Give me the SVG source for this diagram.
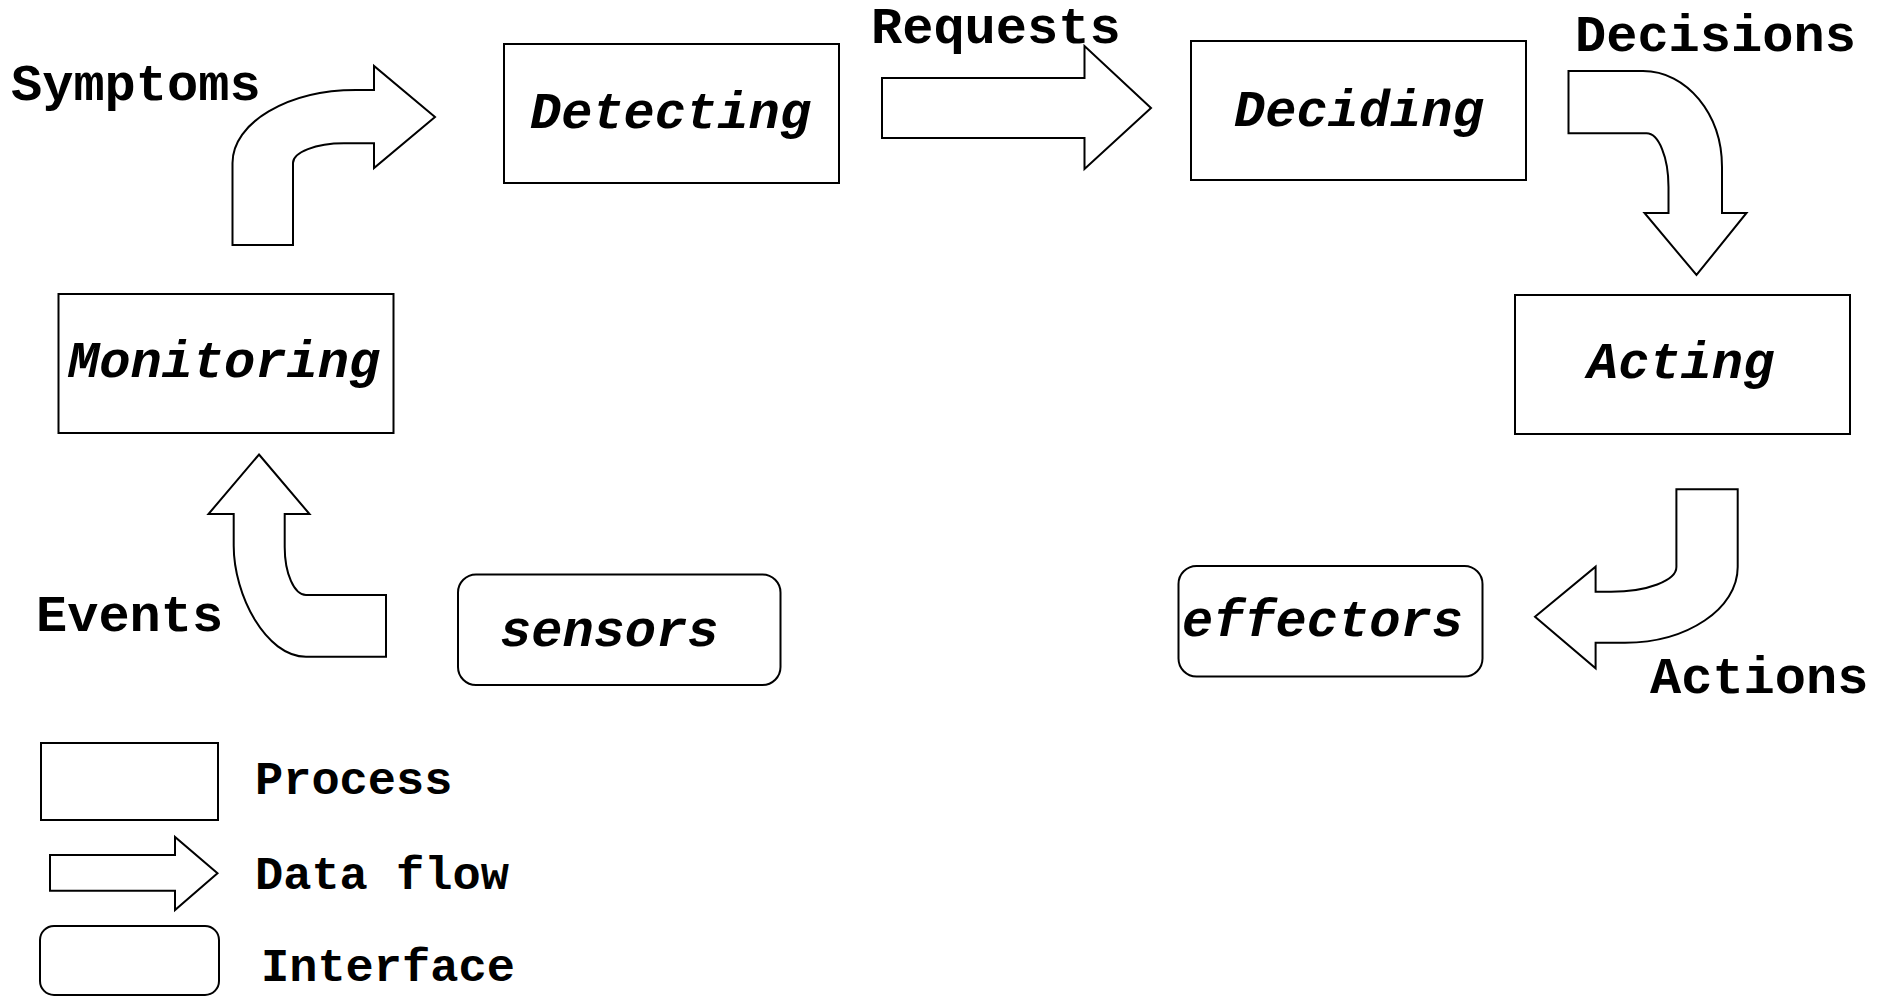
<svg xmlns="http://www.w3.org/2000/svg" width="1895" height="997" viewBox="0 0 1895 997">
  <style>
    .box { fill: #fff; stroke: #000; stroke-width: 2; }
    .flow { fill: #fff; stroke: #000; stroke-width: 2; stroke-linejoin: miter; }
    .lbl { font-family: "Liberation Mono", "Courier New", monospace; font-weight: bold; font-size: 52px; fill: #000; }
    .name { font-family: "Liberation Mono", "Courier New", monospace; font-weight: bold; font-style: italic; font-size: 52px; fill: #000; }
    .key { font-family: "Liberation Mono", "Courier New", monospace; font-weight: bold; font-size: 47px; fill: #000; }
  </style>
  <rect width="1895" height="997" fill="#fff"/>

  <!-- processes -->
  <g id="monitoring">
    <rect class="box" x="58.5" y="294" width="335" height="139"/>
    <text class="name" x="68" y="377">Monitoring</text>
  </g>
  <g id="detecting">
    <rect class="box" x="504" y="44" width="335" height="139"/>
    <text class="name" x="530" y="128">Detecting</text>
  </g>
  <g id="deciding">
    <rect class="box" x="1191" y="41" width="335" height="139"/>
    <text class="name" x="1234" y="126">Deciding</text>
  </g>
  <g id="acting">
    <rect class="box" x="1515" y="295" width="335" height="139"/>
    <text class="name" x="1587" y="378">Acting</text>
  </g>

  <!-- interfaces -->
  <g id="sensors">
    <rect class="box" x="458" y="574.5" width="322.5" height="110.5" rx="18"/>
    <text class="name" x="500" y="646">sensors</text>
  </g>
  <g id="effectors">
    <rect class="box" x="1178.5" y="566" width="304" height="110.5" rx="18"/>
    <text class="name" x="1182" y="636">effectors</text>
  </g>

  <!-- data flows -->
  <g id="connectors">
    <g id="flow-symptoms">
      <path class="flow" d="M 232.5 245 L 232.5 163 C 232.5 122.7 287.8 90 356 90 L 374 90 L 374 66 L 435 117 L 374 168 L 374 143.3 L 344 143.3 C 315.8 143.3 293 152.1 293 163 L 293 245 Z"/>
      <text class="lbl" x="11" y="100">Symptoms</text>
    </g>
    <g id="flow-requests">
      <path class="flow" d="M 882 78 L 1084.5 78 L 1084.5 46 L 1151 108 L 1084.5 169 L 1084.5 138 L 882 138 Z"/>
      <text class="lbl" x="871" y="43">Requests</text>
    </g>
    <g id="flow-decisions">
      <path class="flow" d="M 1568.5 71 L 1643 71 C 1686.6 71 1722 114 1722 167 L 1722 213 L 1746.5 213 L 1696.5 275 L 1644.5 213 L 1668.5 213 L 1668.5 187 C 1668.5 157.3 1658.7 133.3 1646.5 133.3 L 1568.5 133.3 Z"/>
      <text class="lbl" x="1575" y="51">Decisions</text>
    </g>
    <g id="flow-actions">
      <path class="flow" d="M 1676.4 489.3 L 1737.7 489.3 L 1737.7 567 C 1737.7 608.8 1687.2 642.7 1625 642.7 L 1595.6 642.7 L 1595.6 668.3 L 1535 616.7 L 1595.6 566.7 L 1595.6 591.7 L 1611 591.7 C 1647.1 591.7 1676.4 580.6 1676.4 567 Z"/>
      <text class="lbl" x="1650" y="693">Actions</text>
    </g>
    <g id="flow-events">
      <path class="flow" d="M 259 454.5 L 309.5 514 L 284.7 514 L 284.7 547 C 284.7 573.5 294.2 595 306 595 L 386 595 L 386 656.7 L 306 656.7 C 266 656.7 233.7 595.4 233.7 545.7 L 233.7 514 L 208.5 514 Z"/>
      <text class="lbl" x="36" y="631">Events</text>
    </g>
  </g>

  <!-- key -->
  <g id="legend">
    <rect class="box" x="41" y="743" width="177" height="77"/>
    <text class="key" x="255" y="794">Process</text>
    <path class="flow" d="M 50 855 L 175 855 L 175 837 L 217.5 873.3 L 175 910 L 175 890.7 L 50 890.7 Z"/>
    <text class="key" x="255" y="889">Data flow</text>
    <rect class="box" x="40" y="926" width="179" height="69" rx="14"/>
    <text class="key" x="261" y="981">Interface</text>
  </g>
</svg>
